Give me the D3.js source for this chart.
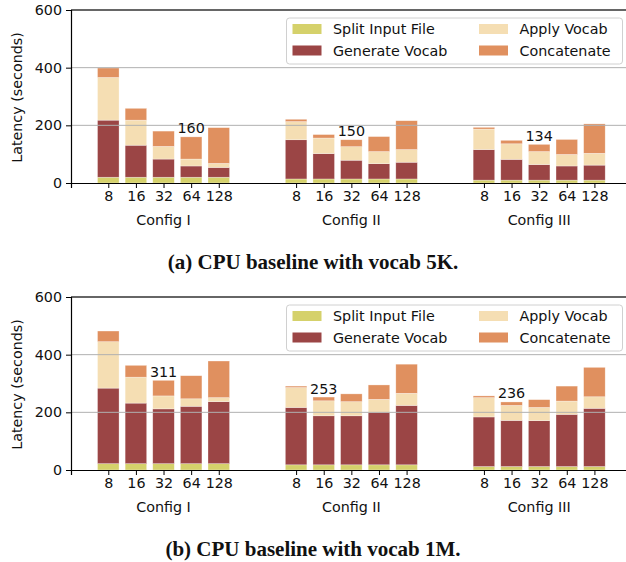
<!DOCTYPE html>
<html>
<head>
<meta charset="utf-8">
<script src="https://cdn.jsdelivr.net/npm/d3@7"></script>
<style>
  body { margin: 0; background: #fff; }
  text { font-family: "DejaVu Sans", sans-serif; }
</style>
</head>
<body>
<div id="chart"></div>
<script>
const width = 626;
const height = 562;

// categories
const stages = ["Split Input File", "Generate Vocab", "Apply Vocab", "Concatenate"];
const stageColors = ["#d5d16b", "#9b4545", "#f5deb3", "#e0905f"];
const configs = ["Config I", "Config II", "Config III"];
const threads = ["8", "16", "32", "64", "128"];
const yTicks = [0, 200, 400, 600];

// vocab 5K, seconds per stage (Config I x5, Config II x5, Config III x5)
const split5K    = [20, 20, 20, 20, 20, 14, 14, 14, 14, 14, 10, 10, 10, 10, 10];
const generate5K = [198, 111, 63, 39, 34, 136, 88, 65, 53, 58, 106, 72, 54, 49, 52];
const apply5K    = [148, 87, 44, 24, 14, 63, 54, 47, 42, 44, 71, 54, 45, 40, 41];
const concat5K   = [33, 41, 53, 77, 124, 8, 12, 24, 52, 100, 6, 12, 25, 52, 102];

// vocab 1M
const split1M    = [22, 22, 22, 22, 22, 18, 18, 18, 18, 18, 12, 12, 12, 12, 12];
const generate1M = [262, 210, 190, 199, 215, 199, 170, 170, 182, 206, 172, 160, 159, 181, 202];
const apply1M    = [161, 90, 45, 26, 14, 69, 52, 49, 45, 42, 67, 52, 46, 46, 40];
const concat1M   = [37, 41, 54, 80, 127, 5, 13, 27, 50, 101, 6, 12, 27, 52, 102];

// annotated bars (index into the 15 bars) and their labels
const notes5K = [{ bar: 3, text: "160" }, { bar: 7, text: "150" }, { bar: 12, text: "134" }];
const notes1M = [{ bar: 2, text: "311" }, { bar: 6, text: "253" }, { bar: 11, text: "236" }];

const svg = d3.select("#chart").append("svg")
  .attr("width", width)
  .attr("height", height);

const fontSize = 14.3;
const groupGap = 6.8; // slots between config groups
const plotH = 173;

// x position in "slots": bar i of config g
const slot = (g, i) => g * groupGap + i;
const x = d3.scaleLinear()
  .domain([-1.35, 2 * groupGap + 4 + 1.35])
  .range([71, 631.7]);
const barW = x(0.78) - x(0);

function drawPanel(top, series, notes, caption) {
  const g = svg.append("g");
  const y = d3.scaleLinear().domain([0, 600]).range([top + plotH, top]);

  // build rows for the stack
  const rows = series[0].map((_, k) => {
    const r = { g: Math.floor(k / 5), i: k % 5 };
    stages.forEach((s, j) => r[s] = series[j][k]);
    return r;
  });
  const stacked = d3.stack().keys(stages)(rows);

  //bars
  g.selectAll(".layer")
    .data(stacked)
    .enter()
    .append("g")
    .attr("fill", (d, j) => stageColors[j])
    .selectAll("rect")
    .data(d => d)
    .enter()
    .append("rect")
    .attr("x", d => x(slot(d.data.g, d.data.i)) - barW / 2)
    .attr("y", d => y(d[1]))
    .attr("width", barW)
    .attr("height", d => y(d[0]) - y(d[1]))
    .attr("stroke", "#fff")
    .attr("stroke-opacity", 0.5)
    .attr("stroke-width", 0.6);

  // gridlines (drawn over the bars like matplotlib)
  g.selectAll(".grid")
    .data(yTicks.filter(t => t > 0 && t < 600))
    .enter()
    .append("line")
    .attr("x1", x.range()[0])
    .attr("x2", width)
    .attr("y1", d => y(d))
    .attr("y2", d => y(d))
    .attr("stroke", "#b0b0b0")
    .attr("stroke-width", 1);

  // top spine
  g.append("line")
    .attr("x1", x.range()[0]).attr("x2", width)
    .attr("y1", y(600)).attr("y2", y(600))
    .attr("stroke", "#333").attr("stroke-width", 1.6);

  // y axis
  const yAxis = g.append("g")
    .attr("transform", `translate(${x.range()[0]},0)`)
    .call(d3.axisLeft(y).tickValues(yTicks).tickSize(5).tickPadding(4));
  yAxis.select(".domain").attr("stroke", "#000").attr("stroke-width", 1.2);
  yAxis.selectAll("text").attr("font-size", fontSize).attr("font-family", "DejaVu Sans").attr("fill", "#111");

  // x axis with thread ticks
  const tickPos = [];
  configs.forEach((c, gi) => threads.forEach((t, i) => tickPos.push({ pos: slot(gi, i), label: t })));
  const xAxis = g.append("g")
    .attr("transform", `translate(0,${y(0)})`)
    .call(d3.axisBottom(x).tickValues(tickPos.map(d => d.pos)).tickSize(5).tickPadding(3)
      .tickFormat((d, k) => tickPos[k].label));
  xAxis.select(".domain").attr("stroke", "#000").attr("stroke-width", 1.2);
  xAxis.selectAll("text").attr("font-size", fontSize).attr("font-family", "DejaVu Sans").attr("fill", "#111");

  // config names under the ticks
  g.selectAll(".cfg")
    .data(configs)
    .enter()
    .append("text")
    .attr("x", (d, gi) => x(slot(gi, 2)))
    .attr("y", y(0) + 42)
    .attr("text-anchor", "middle")
    .attr("font-size", fontSize)
    .attr("fill", "#111")
    .text(d => d);

  // y label
  g.append("text")
    .attr("transform", `translate(16.5,${top + plotH / 2 + 1}) rotate(-90)`)
    .attr("text-anchor", "middle")
    .attr("dominant-baseline", "central")
    .attr("font-size", fontSize)
    .attr("fill", "#111")
    .text("Latency (seconds)");

  // annotations over the minimum bars
  g.selectAll(".note")
    .data(notes)
    .enter()
    .append("text")
    .attr("x", d => x(slot(rows[d.bar].g, rows[d.bar].i)))
    .attr("y", d => y(d3.sum(stages, s => rows[d.bar][s])) - 3.5)
    .attr("text-anchor", "middle")
    .attr("font-size", fontSize)
    .attr("fill", "#111")
    .text(d => d.text);

  // legend
  const leg = g.append("g").attr("transform", `translate(286.5,${top + 8})`);
  leg.append("rect")
    .attr("width", 336).attr("height", 46)
    .attr("rx", 3)
    .attr("fill", "#fff").attr("fill-opacity", 0.85)
    .attr("stroke", "#d0d0d0").attr("stroke-width", 1);
  const items = leg.selectAll(".item")
    .data(stages)
    .enter()
    .append("g")
    .attr("transform", (d, j) => `translate(${j < 2 ? 6 : 192.5},${j % 2 === 0 ? 6 : 27.5})`);
  items.append("rect")
    .attr("width", 29).attr("height", 10)
    .attr("fill", (d, j) => stageColors[j]);
  items.append("text")
    .attr("x", 40.5)
    .attr("y", 5)
    .attr("dominant-baseline", "central")
    .attr("font-size", fontSize)
    .attr("fill", "#111")
    .text(d => d);

  // caption
  svg.append("text")
    .attr("x", 313)
    .attr("y", top + 259)
    .attr("text-anchor", "middle")
    .attr("font-weight", "bold")
    .attr("font-size", 21)
    .attr("fill", "#111")
    .style("font-family", "'Liberation Serif', serif")
    .text(caption);
}

drawPanel(10, [split5K, generate5K, apply5K, concat5K], notes5K, "(a) CPU baseline with vocab 5K.");
drawPanel(297, [split1M, generate1M, apply1M, concat1M], notes1M, "(b) CPU baseline with vocab 1M.");
</script>
</body>
</html>
